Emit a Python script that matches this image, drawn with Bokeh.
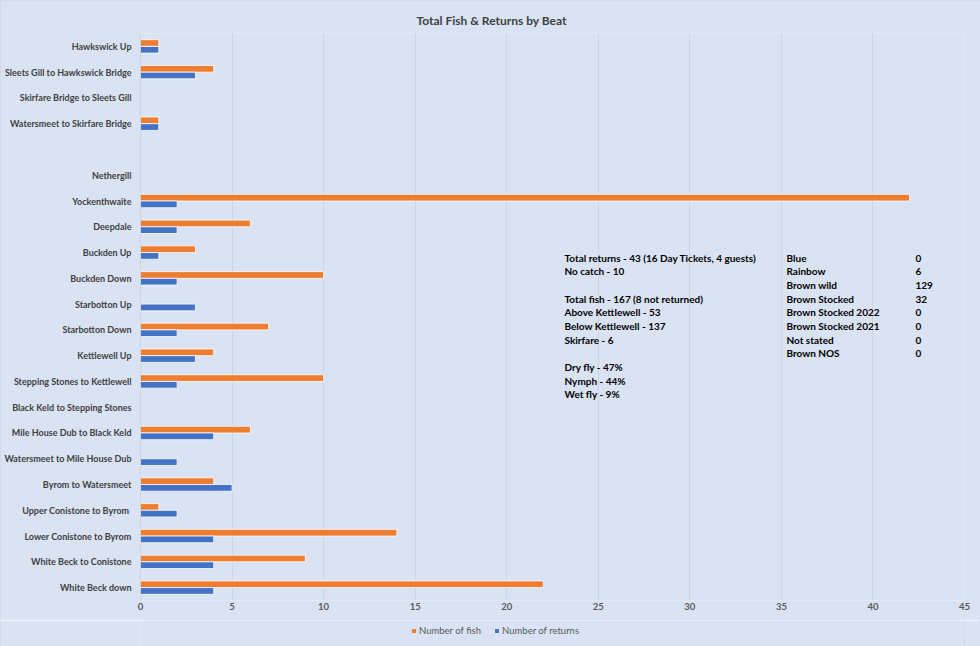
from bokeh.plotting import figure
from bokeh.layouts import column
from bokeh.models import (FactorRange, Range1d, FixedTicker, Legend, LegendItem,
                          Label, ColumnDataSource, CDSView, BooleanFilter)
from bokeh.transform import dodge
from bokeh.embed import file_html
from bokeh.resources import INLINE

# ---------------- data ----------------
beats = ["Hawkswick Up", "Sleets Gill to Hawkswick Bridge", "Skirfare Bridge to Sleets Gill",
         "Watersmeet to Skirfare Bridge", " ", "Nethergill", "Yockenthwaite", "Deepdale",
         "Buckden Up", "Buckden Down", "Starbotton Up", "Starbotton Down", "Kettlewell Up",
         "Stepping Stones to Kettlewell", "Black Keld to Stepping Stones",
         "Mile House Dub to Black Keld", "Watersmeet to Mile House Dub", "Byrom to Watersmeet",
         "Upper  Conistone to Byrom", "Lower Conistone to Byrom", "White Beck to Conistone",
         "White Beck down"]
fish = [1, 4, 0, 1, 0, 0, 42, 6, 3, 10, 0, 7, 4, 10, 0, 6, 0, 4, 1, 14, 9, 22]
returns = [1, 3, 0, 1, 0, 0, 2, 2, 1, 2, 3, 2, 3, 2, 0, 4, 2, 5, 2, 4, 4, 4]
x_ticks = [0, 5, 10, 15, 20, 25, 30, 35, 40, 45]
series_names = ["Number of fish", "Number of returns"]

notes = ["Total returns - 43 (16 Day Tickets, 4 guests)", "No catch - 10", "",
         "Total fish - 167 (8 not returned)", "Above Kettlewell - 53",
         "Below Kettlewell - 137", "Skirfare - 6", "",
         "Dry fly - 47%", "Nymph - 44%", "Wet fly - 9%"]
species = ["Blue", "Rainbow", "Brown wild", "Brown Stocked", "Brown Stocked 2022",
           "Brown Stocked 2021", "Not stated", "Brown NOS"]
species_counts = [0, 6, 129, 32, 0, 0, 0, 0]

# ---------------- styling ----------------
BG = "#DAE3F3"
ORANGE = "#ED7D31"
BLUE = "#4472C4"
FONT = "Lato"
GRID = "#D0D4DC"

src = ColumnDataSource(dict(beat=beats, fish=fish, returns=returns))

p = figure(width=980, height=620, output_backend="svg", toolbar_location=None,
           y_range=FactorRange(*reversed(beats)), x_range=Range1d(0, 45),
           min_border_left=140, min_border_right=16, min_border_top=33,
           min_border_bottom=20)
p.y_range.range_padding = 0
p.background_fill_color = BG
p.border_fill_color = BG
p.outline_line_color = None

p.title.text = "Total Fish & Returns by Beat"
p.title.align = "left"
p.title.offset = 276
p.title.text_font = FONT
p.title.text_font_size = "12px"
p.title.text_font_style = "bold"
p.title.text_color = "#404040"
p.title.standoff = 12

view_f = CDSView(filter=BooleanFilter([v > 0 for v in fish]))
view_r = CDSView(filter=BooleanFilter([v > 0 for v in returns]))

rf = p.hbar(y=dodge("beat", 0.13, range=p.y_range), right="fish", left=0, height=0.26,
            source=src, view=view_f, fill_color=ORANGE, line_color="white", line_width=0.8)
rr = p.hbar(y=dodge("beat", -0.13, range=p.y_range), right="returns", left=0, height=0.26,
            source=src, view=view_r, fill_color=BLUE, line_color="white", line_width=0.8)

# axes
p.xaxis.ticker = FixedTicker(ticks=x_ticks)
p.xaxis.axis_line_color = None
p.xaxis.major_tick_line_color = None
p.xaxis.minor_tick_line_color = None
p.xaxis.major_tick_out = 0
p.xaxis.major_tick_in = 0
p.xaxis.minor_tick_out = 0
p.xaxis.major_label_text_font = FONT
p.xaxis.major_label_text_font_size = "9.5px"
p.xaxis.major_label_text_font_style = "bold"
p.xaxis.major_label_text_color = "#595959"
p.xaxis.major_label_standoff = 2

p.yaxis.axis_line_color = GRID
p.yaxis.major_tick_line_color = None
p.yaxis.minor_tick_line_color = None
p.yaxis.major_tick_out = 0
p.yaxis.major_tick_in = 0
p.yaxis.minor_tick_out = 0
p.yaxis.major_label_text_font = FONT
p.yaxis.major_label_text_font_size = "9px"
p.yaxis.major_label_text_font_style = "bold"
p.yaxis.major_label_text_color = "#404040"
p.yaxis.major_label_standoff = 9

p.ygrid.grid_line_color = None
p.xgrid.grid_line_color = GRID

label_kw = dict(x_units="screen", y_units="screen", text_font=FONT,
                text_font_size="10px", text_font_style="bold", text_color="black",
                text_baseline="top", text_line_height=1.14)
p.add_layout(Label(x=424, y=349, text="\n".join(notes), **label_kw))
p.add_layout(Label(x=646, y=349, text="\n".join(species), **label_kw))
p.add_layout(Label(x=775, y=349, text="\n".join(str(c) for c in species_counts), **label_kw))

# ---------------- legend strip ----------------
# the strip reuses the same data source; its ranges keep the proxy bars out of view
lg = figure(width=980, height=26, output_backend="svg", toolbar_location=None,
            x_axis_location=None, y_axis_location=None, min_border=0,
            x_range=Range1d(-2, -1), y_range=FactorRange(*reversed(beats)))
lg.background_fill_color = BG
lg.border_fill_color = BG
lg.outline_line_color = None
lg.grid.grid_line_color = None
lf = lg.hbar(y="beat", right="fish", left=0, height=0.26, source=src,
             fill_color=ORANGE, line_color=None)
lr = lg.hbar(y="beat", right="returns", left=0, height=0.26, source=src,
             fill_color=BLUE, line_color=None)
legend = Legend(items=[LegendItem(label=series_names[0], renderers=[lf]),
                       LegendItem(label=series_names[1], renderers=[lr])],
                orientation="horizontal", location=(271, 10),
                background_fill_alpha=0, border_line_color=None,
                label_text_font=FONT, label_text_font_size="9.5px",
                label_text_color="#595959", glyph_width=5, glyph_height=5,
                spacing=13, label_standoff=3, padding=0, margin=0,
                label_height=10)
lg.add_layout(legend, "center")

layout = column(p, lg, spacing=0,
                styles={"outline": "1px solid #D6D9DE", "outline-offset": "-1px"})
open("out.html", "w").write(file_html(layout, INLINE))
